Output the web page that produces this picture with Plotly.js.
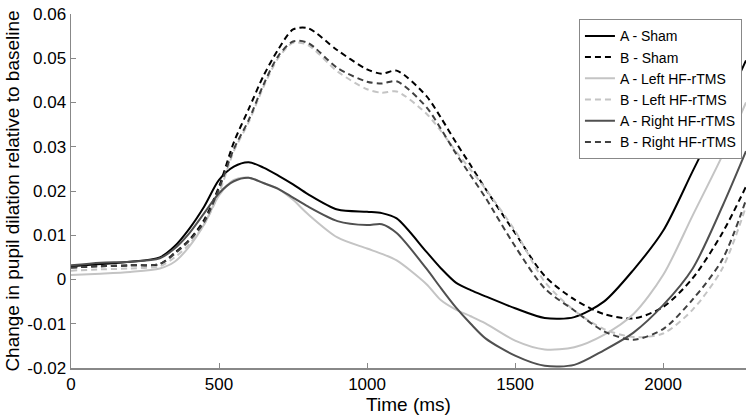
<!DOCTYPE html>
<html>
<head>
<meta charset="utf-8">
<script src="https://cdn.plot.ly/plotly-3.0.1.min.js"></script>
<style>html,body{margin:0;padding:0;background:#fff;}#chart{width:750px;height:420px;}</style>
</head>
<body>
<div id="chart"></div>
<script>
const timeMs = [0,100,200,300,350,400,450,500,550,600,650,700,750,800,900,1000,1050,1100,1200,1250,1300,1350,1400,1500,1600,1700,1800,1900,2000,2100,2200,2280];

const aSham  = [0.003,0.0035,0.004,0.005,0.0075,0.0115,0.0165,0.0225,0.0255,0.0265,0.0253,0.0235,0.0215,0.0193,0.0158,0.0153,0.015,0.0138,0.0063,0.0025,-0.0007,-0.0024,-0.0038,-0.0065,-0.0087,-0.0085,-0.005,0.0022,0.011,0.0245,0.038,0.0495];
const bSham  = [0.0027,0.003,0.0032,0.0035,0.006,0.009,0.0135,0.021,0.031,0.0385,0.046,0.052,0.0565,0.0568,0.0518,0.0475,0.0465,0.0472,0.0415,0.0365,0.031,0.0258,0.0205,0.0105,0.0008,-0.0045,-0.0078,-0.0088,-0.0062,0.0003,0.0105,0.021];
const aLeft  = [0.001,0.0013,0.0017,0.0025,0.004,0.0075,0.0125,0.019,0.0225,0.023,0.0218,0.0205,0.018,0.0148,0.0095,0.007,0.0058,0.0043,-0.001,-0.0047,-0.0068,-0.0083,-0.0099,-0.0138,-0.0158,-0.0153,-0.0125,-0.0078,0.001,0.0145,0.028,0.040];
const bLeft  = [0.002,0.0023,0.0025,0.003,0.005,0.008,0.0125,0.0195,0.029,0.0355,0.0435,0.05,0.0535,0.053,0.047,0.043,0.0422,0.0425,0.0375,0.0335,0.029,0.0248,0.0205,0.011,-0.0005,-0.007,-0.0112,-0.013,-0.0122,-0.0068,0.0025,0.0165];
const aRight = [0.0032,0.0038,0.004,0.0048,0.007,0.0105,0.015,0.0195,0.0222,0.023,0.0218,0.0205,0.0185,0.0165,0.0132,0.0123,0.0125,0.0105,0.0025,-0.002,-0.0063,-0.010,-0.0133,-0.0172,-0.0195,-0.0193,-0.016,-0.012,-0.0058,0.0025,0.0165,0.029];
const bRight = [0.0027,0.003,0.0032,0.0035,0.0058,0.0088,0.013,0.0205,0.0295,0.036,0.044,0.0505,0.0538,0.0535,0.0478,0.0447,0.0443,0.0448,0.039,0.034,0.0285,0.0235,0.0185,0.0075,-0.002,-0.007,-0.0117,-0.0136,-0.0112,-0.0045,0.0045,0.018];

const seriesNames = ['A - Sham','B - Sham','A - Left HF-rTMS','B - Left HF-rTMS','A - Right HF-rTMS','B - Right HF-rTMS'];
const xTickVals = [0,500,1000,1500,2000];
const xTickText = ['0','500','1000','1500','2000'];
const yTickVals = [-0.02,-0.01,0,0.01,0.02,0.03,0.04,0.05,0.06];
const yTickText = ['-0.02','-0.01','0','0.01','0.02','0.03','0.04','0.05','0.06'];

const values = [aSham,bSham,aLeft,bLeft,aRight,bRight];
const colors = ['#000000','#000000','#c4c4c4','#c4c4c4','#505050','#404040'];
const dashes = ['solid','6px,4px','solid','6px,4px','solid','6px,4px'];

const traces = values.map((v,i)=>({
  x: timeMs, y: v, type:'scatter', mode:'lines', name: seriesNames[i],
  line:{color:colors[i], width:2, dash:dashes[i], shape:'spline', smoothing:0.8}
}));

const axisCommon = {
  showline:true, linecolor:'#888888', linewidth:1.5, mirror:false,
  showgrid:false, zeroline:false, ticks:'inside', ticklen:5, tickcolor:'#888888', tickwidth:1,
  tickfont:{size:17, color:'#000'}
};

const layout = {
  width:750, height:420,
  margin:{l:71, r:4, t:14, b:52},
  paper_bgcolor:'#fff', plot_bgcolor:'#fff',
  font:{family:'"Liberation Sans", Arial, Helvetica, sans-serif', color:'#000'},
  showlegend:true,
  legend:{x:0.994, y:0.985, xanchor:'right', yanchor:'top', bgcolor:'#fff', bordercolor:'#888', borderwidth:1,
          font:{size:14}, itemwidth:30, tracegroupgap:0},
  xaxis: Object.assign({}, axisCommon, {range:[0,2280], tickmode:'array', tickvals:xTickVals, ticktext:xTickText,
          title:{text:'Time (ms)', font:{size:19}, standoff:2}}),
  yaxis: Object.assign({}, axisCommon, {range:[-0.02,0.06], tickmode:'array', tickvals:yTickVals, ticktext:yTickText,
          title:{text:'Change in pupil dilation relative to baseline', font:{size:19}, standoff:2}})
};

Plotly.newPlot('chart', traces, layout, {displayModeBar:false, staticPlot:true});
</script>
</body>
</html>
